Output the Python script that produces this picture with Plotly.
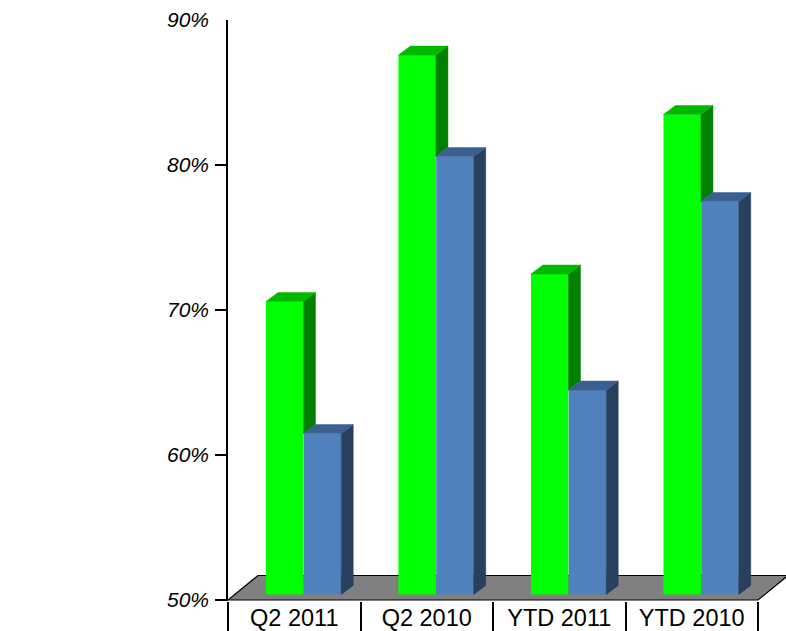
import plotly.graph_objects as go

# Data
categories = ["Q2 2011", "Q2 2010", "YTD 2011", "YTD 2010"]
green_vals = [70.2, 87.2, 72.1, 83.1]
blue_vals = [61.1, 80.2, 64.1, 77.1]
y_ticks = [50, 60, 70, 80, 90]
y_tick_text = ["50%", "60%", "70%", "80%", "90%"]

# Colours: front / side / top faces
GREEN = ("#00FF00", "#008000", "#00B800")
BLUE = ("#4F81BD", "#283F5D", "#3B6090")
FLOOR = "#808080"

# Page geometry
W, H = 786, 631
L, R, T, B = 228, 0, 20, 30
plot_w = W - L - R
plot_h = H - T - B
SX = 132.5          # px per category
SY = 14.5           # px per percentage point
X_MAX = plot_w / SX
Y_TOP = 90
Y_LO = Y_TOP - plot_h / SY
BASE = 50


def ux(px):
    return px / SX


def uy(px):
    return px / SY


# 3-D look: floor depth, bar depth, bar lift off the floor's front edge
floor_dx, floor_dy = ux(30), uy(24.5)
bar_dx, bar_dy = ux(12), uy(9)
lift = uy(5.5)
bar_w = 0.283
green_off, blue_off = 0.428, 0.713

fig = go.Figure()

# Front faces
for vals, off, cols in ((green_vals, green_off, GREEN), (blue_vals, blue_off, BLUE)):
    fig.add_trace(go.Bar(
        x=[i + off for i in range(len(categories))],
        y=[v - BASE for v in vals],
        base=BASE + lift,
        width=bar_w,
        marker=dict(color=cols[0], line=dict(width=0)),
        hoverinfo="skip",
        showlegend=False,
    ))


def poly(xs, ys, color):
    fig.add_trace(go.Scatter(
        x=xs + [xs[0]], y=ys + [ys[0]], mode="lines", fill="toself",
        fillcolor=color, line=dict(color=color, width=0.5),
        hoverinfo="skip", showlegend=False,
    ))


# Side and top faces
b0 = BASE + lift
for i, (g, bl) in enumerate(zip(green_vals, blue_vals)):
    gt, bt = g + lift, bl + lift
    gl = i + green_off - bar_w / 2
    gr = i + green_off + bar_w / 2
    br = i + blue_off + bar_w / 2
    # green side, visible above the blue box
    poly([gr, gr + bar_dx, gr + bar_dx, gr], [gt, gt + bar_dy, bt + bar_dy, bt], GREEN[1])
    # green top
    poly([gl, gl + bar_dx, gr + bar_dx, gr], [gt, gt + bar_dy, gt + bar_dy, gt], GREEN[2])
    # blue side
    poly([br, br + bar_dx, br + bar_dx, br], [bt, bt + bar_dy, b0 + bar_dy, b0], BLUE[1])
    # blue top
    poly([gr, gr + bar_dx, br + bar_dx, br], [bt, bt + bar_dy, bt + bar_dy, bt], BLUE[2])

# Floor
n = len(categories)
floor_path = (f"M 0,{BASE} L {n},{BASE} L {n + floor_dx},{BASE + floor_dy} "
              f"L {floor_dx},{BASE + floor_dy} Z")
fig.add_shape(type="path", path=floor_path, xref="x", yref="y",
              fillcolor=FLOOR, line=dict(color="black", width=1.2), layer="below")

font_family = "Liberation Sans, Arial, sans-serif"

fig.update_layout(
    width=W, height=H,
    margin=dict(l=L, r=R, t=T, b=B, pad=0, autoexpand=False),
    paper_bgcolor="white", plot_bgcolor="white",
    barmode="overlay",
    showlegend=False,
    xaxis=dict(
        range=[0, X_MAX], showgrid=False, zeroline=False, showline=False,
        tickvals=list(range(n + 1)), ticks="outside", ticklen=32,
        tickwidth=1.5, tickcolor="black", showticklabels=False,
        automargin=False,
    ),
    xaxis2=dict(
        range=[0, X_MAX], overlaying="x", anchor="y", side="bottom",
        showgrid=False, zeroline=False, showline=False, ticks="",
        tickvals=[i + 0.5 for i in range(n)], ticktext=categories,
        tickfont=dict(family=font_family, size=23.5, color="black"),
        ticklabelstandoff=0, automargin=False,
    ),
    yaxis=dict(
        range=[Y_LO, Y_TOP], showgrid=False, zeroline=False,
        showline=True, linecolor="black", linewidth=1.5,
        tickvals=y_ticks[:-1], ticks="outside", ticklen=11,
        tickwidth=1.5, tickcolor="black", showticklabels=False,
        automargin=False,
    ),
    yaxis2=dict(
        range=[Y_LO, Y_TOP], overlaying="y", anchor="x", side="left",
        showgrid=False, zeroline=False, showline=False, ticks="",
        tickvals=y_ticks, ticktext=y_tick_text,
        tickfont=dict(family=font_family, size=21, color="black", style="italic"),
        ticklabelstandoff=18, automargin=False,
    ),
)

# empty trace so the overlay axes render
fig.add_trace(go.Scatter(x=[None], y=[None], xaxis="x2", yaxis="y2", showlegend=False))

fig.write_html("out.html")
